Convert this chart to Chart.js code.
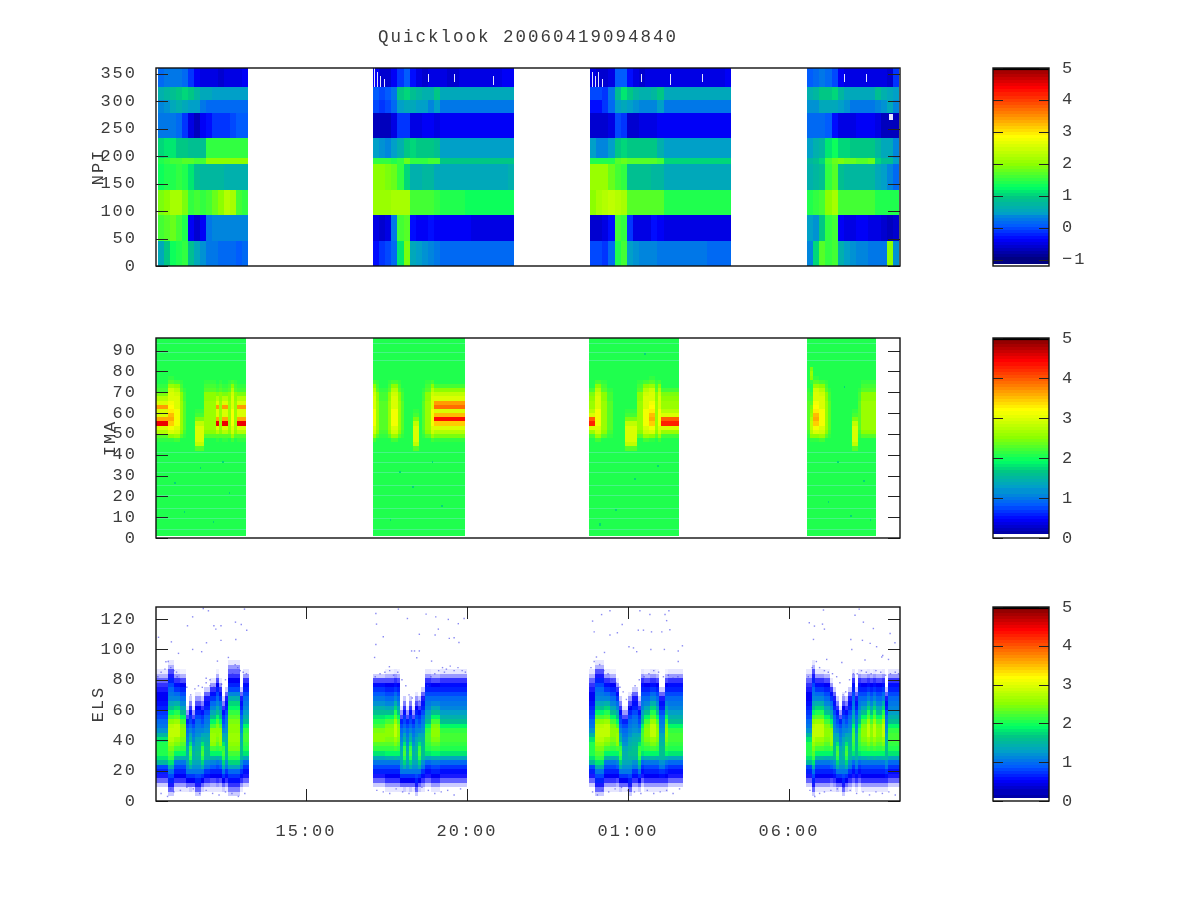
<!DOCTYPE html>
<html>
<head>
<meta charset="utf-8">
<title>Quicklook 20060419094840</title>
<script src="https://cdn.jsdelivr.net/npm/chart.js@4"></script>
<style>
html, body { margin: 0; padding: 0; background: #fff; }
#page { position: relative; width: 1200px; height: 900px; overflow: hidden; }
canvas { position: absolute; }
</style>
</head>
<body>
<div id="page">
<canvas id="npi" width="1056" height="278" style="left:0;top:0"></canvas>
<canvas id="ima" width="1056" height="224" style="left:0;top:326px"></canvas>
<canvas id="els" width="1056" height="258" style="left:0;top:595px"></canvas>
<canvas id="npiBar" width="140" height="222" style="left:960px;top:56px"></canvas>
<canvas id="imaBar" width="140" height="224" style="left:960px;top:326px"></canvas>
<canvas id="elsBar" width="140" height="218" style="left:960px;top:595px"></canvas>
</div>
<script>
const FONT = 'Liberation Mono';
const INK = '#3c3c3c';

// time axis, hours since midnight of the first day
const timeMin = 10.342;
const timeMax = 33.447;
const timeTicks = [15, 20, 25, 30];
const timeLabels = ['15:00', '20:00', '01:00', '06:00'];

const npiTicks = [0, 50, 100, 150, 200, 250, 300, 350];
const imaTicks = [0, 10, 20, 30, 40, 50, 60, 70, 80, 90];
const elsTicks = [0, 20, 40, 60, 80, 100, 120];
const npiBarTicks = [-1, 0, 1, 2, 3, 4, 5];
const npiBarLabels = ['\u22121', '0', '1', '2', '3', '4', '5'];
const plainBarTicks = [0, 1, 2, 3, 4, 5];

// NPI: sectors in degrees, one row per band from the bottom up
const npiBlocks = [[10.40, 13.20], [17.08, 21.46], [23.82, 28.20], [30.56, 33.42]];
const npiEdges = [0, 46, 93, 139, 186, 197, 232, 279, 302, 325, 360];
const npiBlock1 = [
    [.6, 1, 1.3, 1.4, 1.5, .9, .6, .4, .2, .2, .1, .1, .1, 0, .1],
    [1.6, 1.7, 1.8, 1.6, 1.4, -.4, -.6, -.4, .2, .3, .3, .3, .3, .3, .3],
    [1.9, 2, 2.2, 2.2, 1.9, 1.5, 1.6, 1.5, 1.6, 1.8, 2, 2.3, 2.2, 1.6, 1.5],
    [1.3, 1.4, 1.4, 1.5, 1.4, 1.2, .9, .8, .8, .8, .8, .7, .7, .7, .7],
    [1.4, 1.5, 1.6, 1.6, 1.7, 1.7, 1.6, 1.6, 2, 2, 2, 2, 2, 2, 2],
    [1.1, 1.2, 1.2, 1, 1, .9, .9, .9, 1.5, 1.5, 1.5, 1.5, 1.5, 1.5, 1.5],
    [.2, .2, .2, .1, -.2, -.5, -.7, -.4, -.3, -.2, -.2, -.2, -.1, 0, 0],
    [.3, .4, .6, .7, .6, .5, .5, .2, .1, .1, .1, .1, .1, .1, .1],
    [.7, .8, .9, 1, 1.1, 1, .8, .6, .6, .5, .5, .5, .5, .5, .5],
    [.1, .2, .2, .2, .1, -.2, -.4, -.5, -.5, -.5, -.6, -.5, -.5, -.5, -.4]
];
const npiBlock2 = [
    [-.3, -.2, -.1, .1, 1.2, 1.9, .6, .5, .4, .3, .2, .1, .1, .1, .1, .1, .1, .1, .1, .1, .1, .1, .1],
    [-.5, -.6, -.5, .2, 1.6, 1.7, -.3, -.4, -.4, -.3, -.4, -.4, -.4, -.4, -.4, -.4, -.5, -.5, -.5, -.5, -.5, -.5, -.5],
    [2.1, 2.1, 2.1, 2.2, 2.2, 2.2, 1.6, 1.6, 1.6, 1.6, 1.5, 1.4, 1.4, 1.4, 1.4, 1.35, 1.35, 1.35, 1.35, 1.35, 1.35, 1.35, 1.35],
    [2, 2, 1.9, 1.8, 1.5, 1.1, .7, .7, .8, .8, .6, .6, .6, .6, .6, .6, .6, .6, .6, .6, .6, .6, .7],
    [1.5, 1.5, 1.5, 1.4, 1.5, 1.8, 1.5, 1.5, 1.5, 1.6, 1.6, 1, 1, 1, 1, 1, 1, 1, 1, 1, 1, 1, 1],
    [.5, .4, .3, .5, .7, 1, 1.1, 1, 1, 1, .9, .5, .5, .5, .5, .5, .5, .5, .5, .5, .5, .5, .5],
    [-.7, -.7, -.7, -.5, -.2, -.2, -.5, -.5, -.4, -.4, -.5, -.4, -.4, -.4, -.4, -.4, -.4, -.4, -.4, -.4, -.4, -.4, -.4],
    [-.1, -.2, -.1, .1, .5, .6, .6, .5, .5, .3, .5, .2, .2, .2, .2, .2, .2, .2, .2, .2, .2, .2, .2],
    [0, -.1, 0, .2, 1, 1.1, .9, .8, .7, .7, 1, .6, .6, .6, .6, .6, .6, .6, .6, .6, .6, .6, .6],
    [-.4, -.6, -.6, -.4, -.2, 0, -.3, -.5, -.6, -.5, -.5, -.5, -.6, -.6, -.5, -.5, -.5, -.5, -.5, -.5, -.5, -.4, -.4]
];
const npiBlock3 = [
    [-.1, -.1, -.2, .1, 1.4, 1.6, .5, .4, .3, .3, .3, .2, .2, .2, .2, .2, .2, .2, .2, .1, .1, .1, .1],
    [-.6, -.6, -.5, -.3, 1.6, 1.5, -.2, -.5, -.5, -.5, -.3, -.4, -.5, -.5, -.5, -.5, -.5, -.5, -.5, -.5, -.5, -.5, -.5],
    [2, 2.2, 2.3, 2.4, 2.3, 2.2, 1.7, 1.7, 1.7, 1.7, 1.7, 1.7, 1.4, 1.4, 1.4, 1.4, 1.4, 1.4, 1.4, 1.4, 1.4, 1.4, 1.4],
    [2.1, 2.1, 2.1, 1.8, 1.6, 1.5, .9, .9, .9, .9, .8, .8, .6, .6, .6, .6, .6, .6, .6, .6, .6, .6, .6],
    [1.4, 1.4, 1.4, 1.4, 1.7, 1.8, 1.7, 1.7, 1.7, 1.7, 1.7, 1.6, 1.1, 1.1, 1.1, 1.1, 1.1, 1.1, 1.1, 1.1, 1.1, 1.1, 1.1],
    [.5, .3, .3, .5, 1, 1.1, 1, 1, 1, 1, 1, .7, .5, .5, .5, .5, .5, .5, .5, .5, .5, .5, .5],
    [-.6, -.6, -.6, -.5, -.1, -.2, -.6, -.6, -.5, -.5, -.5, -.4, -.4, -.4, -.4, -.4, -.4, -.4, -.4, -.4, -.4, -.4, -.4],
    [-.3, -.3, -.2, .1, .5, .6, .5, .4, .3, .3, .3, .5, .2, .2, .2, .2, .2, .2, .2, .2, .2, .2, .2],
    [-.1, -.1, -.2, .2, .9, 1.2, 1, .8, .7, .7, .8, 1, .6, .6, .6, .6, .6, .6, .6, .6, .6, .6, .6],
    [-.5, -.6, -.6, -.5, 0, 0, -.3, -.5, -.6, -.5, -.5, -.5, -.5, -.5, -.5, -.5, -.5, -.5, -.5, -.5, -.5, -.5, -.4]
];
const npiBlock4 = [
    [.3, 1.1, 1.7, 1.5, 1.6, .7, .5, .4, .3, .3, .2, .2, .2, 2, .4],
    [.5, .4, 1, 1.5, 1.6, -.4, -.5, -.5, -.4, -.4, -.5, -.5, -.6, -.7, -.6],
    [1.4, 1.5, 1.6, 2, 2.2, 1.6, 1.6, 1.6, 1.6, 1.6, 1.6, 1.4, 1.4, 1.4, 1.4],
    [.7, .8, .9, 1.5, 1.7, .9, .8, .8, .8, .8, .8, .6, .5, .3, .1],
    [.8, .9, 1.1, 1.6, 1.8, 1.9, 1.8, 1.8, 1.7, 1.7, 1.8, 1.1, .9, .9, .5],
    [.5, .7, .8, 1.2, 1.3, 1.1, 1.1, 1, 1, 1, 1, .8, .6, .6, .3],
    [.1, .1, .1, 0, -.3, -.5, -.5, -.5, -.4, -.4, -.4, -.5, -.7, -.7, -.7],
    [.4, .4, .6, .6, .6, .5, .4, .2, .2, .2, .2, .3, .4, .6, .3],
    [.7, .8, 1, 1, 1.1, .8, .6, .6, .6, .6, .6, .9, .7, .6, .5],
    [0, .1, .2, .1, -.1, -.4, -.5, -.5, -.5, -.5, -.5, -.5, -.5, -.6, -.2]
];
// empty samples in the NPI top band: start hour, end hour, low and high sector
const npiBlanks = [
    [17.11, 17.15, 325, 360], [17.20, 17.24, 325, 352], [17.30, 17.34, 325, 345], [17.42, 17.46, 325, 340],
    [23.88, 23.92, 325, 352], [23.97, 24.01, 325, 345], [24.06, 24.10, 325, 352], [24.20, 24.23, 325, 340],
    [18.8, 18.83, 335, 350], [19.6, 19.63, 335, 350], [20.8, 20.83, 330, 345], [25.4, 25.43, 335, 350],
    [26.3, 26.33, 330, 350], [27.3, 27.33, 335, 350], [31.7, 31.73, 335, 350], [32.4, 32.43, 335, 350],
    [33.12, 33.22, 265, 277]
];

// IMA: background level plus the hot rows between 42 and 82
const imaBlocks = [[10.342, 13.14], [17.08, 19.94], [23.80, 26.58], [30.55, 32.69]];
const imaFloor = 0.8;
const imaCeil = 96;
const imaBase = 2;
const imaPaleRows = [4, 9, 14, 20, 25, 31, 36, 41, 85, 89, 93];
const imaSpeckHours = [11.2, 12.1, 12.6, 11.7, 10.9, 12.4, 17.6, 18.3, 19.2, 18.9, 17.9, 24.6, 25.2, 24.1, 25.9, 25.5, 31.2, 31.9, 32.3, 31.5, 32.5, 31.7];
const imaSpeckChannels = [12, 7, 21, 33, 26, 36, 8, 24, 15, 36, 31, 13, 28, 6, 34, 88, 17, 10, 27, 36, 8, 72];
const imaRowStart = 42;
const imaRowStep = 2;
const imaN = [2, 2, 2, 2, 2, 2, 2, 2, 2, 2, 2, 2, 2, 2, 2, 2, 2, 2, 2, 2];
const imaI = [2, 2, 2, 2.1, 2.2, 2.3, 2.3, 2.3, 2.3, 2.3, 2.3, 2.3, 2.2, 2.2, 2.1, 2, 2, 2, 2, 2];
const imaA = [2, 2, 2, 2.3, 2.5, 2.6, 2.6, 2.6, 2.6, 2.6, 2.6, 2.6, 2.5, 2.5, 2.3, 2.2, 2.1, 2, 2, 2];
const imaB = [2, 2, 2.2, 2.6, 2.9, 3, 3.1, 3.1, 3.1, 3.1, 3, 3, 3, 2.9, 2.7, 2.5, 2.2, 2, 2, 2];
const imaC = [2, 2, 2.1, 2.3, 2.7, 3, 4.5, 3.6, 3, 3, 3.7, 3, 2.7, 2.4, 2.2, 2.1, 2, 2, 2, 2];
const imaD = [2, 2, 2.1, 2.4, 2.7, 3, 3.4, 4.4, 3.5, 3, 3.9, 3.7, 3, 2.8, 2.5, 2.2, 2, 2, 2, 2];
const imaE = [2.3, 2.8, 3, 3, 3, 3, 2.8, 2.4, 2.2, 2.1, 2, 2, 2, 2, 2, 2, 2, 2, 2, 2];
const imaF = [2, 2, 2.1, 2.5, 2.7, 2.8, 2.8, 2.7, 2.6, 2.5, 2.4, 2.3, 2.2, 2.1, 2, 2, 2.1, 2.5, 2.6, 2.4];
const imaG = [2, 2, 2, 2.2, 2.6, 3, 4.3, 4, 3, 2.7, 2.6, 2.6, 2.5, 2.4, 2.2, 2, 2, 2, 2, 2];
const imaH = [2, 2, 2.1, 2.5, 3, 3.1, 3.4, 3.6, 3.5, 3.3, 3.2, 3.1, 3, 3, 2.9, 2.6, 2.3, 2.1, 2, 2];
const imaProfiles = { n: imaN, i: imaI, a: imaA, b: imaB, c: imaC, d: imaD, e: imaE, f: imaF, g: imaG, h: imaH };
const imaColumns = [
    'cccchhbbainnneeeaaaacaccabaccc',
    'baiiiabbainnneeniaabdddddddddd',
    'ggbbaaiinnnneeeeaabbhhabgggggg',
    'ifhhbbainnnnnnneeiaaaaa'
];

// ELS: energy profiles, rows 3 to 93 in steps of 3
const elsBlocks = [[10.342, 13.23], [17.08, 20.00], [23.79, 26.71], [30.53, 33.447]];
const elsRowStart = 3;
const elsRowStep = 3;
const elsA = [0, 0, .1, .3, .45, .55, .7, .9, 1.3, 1.8, 2, 2.1, 2.15, 2.2, 2.1, 1.9, 1.6, 1.4, 1.25, 1.1, 1, .9, .75, .65, .55, .4, .2, .05, 0, 0, 0];
const elsB = [0, .05, .2, .4, .5, .65, .8, 1, 1.5, 1.9, 2.2, 2.4, 2.6, 2.8, 2.85, 2.8, 2.6, 2.3, 2, 1.7, 1.4, 1.1, .9, .7, .55, .4, .2, .05, 0, 0, 0];
const elsC = [.1, .3, .45, .6, .8, 1, 1.2, 1.35, 1.5, 1.55, 1.5, 1.4, 1.3, 1.2, 1.1, 1, .9, .8, .65, .5, .35, .2, .05, 0, 0, 0, 0, 0, 0, 0, 0];
const elsD = [0, .1, .3, .5, .7, 1, 1.4, 1.7, 2, 2.2, 2.1, 1.8, 1.5, 1.3, 1.1, .9, .8, .7, .55, .4, .25, .1, 0, 0, 0, 0, 0, 0, 0, 0, 0];
const elsE = [0, .05, .3, .5, .7, 1, 1.2, 1.3, 1.4, 1.4, 1.3, 1.2, 1.1, 1, .9, .8, .6, .35, .2, .05, 0, 0, 0, 0, 0, 0, 0, 0, 0, 0, 0];
const elsF = [.1, .3, .45, .6, .8, 1, 1.4, 1.8, 2.1, 2.3, 2.4, 2.6, 2.7, 2.8, 2.8, 2.7, 2.5, 2.2, 1.9, 1.6, 1.3, 1.1, 1, .9, .75, .6, .45, .35, .15, .05, 0];
const elsG = [0, 0, .1, .3, .45, .6, .8, 1.5, 1.8, 2, 2.05, 2, 1.8, 1.5, 1.2, 1, .9, .8, .7, .6, .55, .5, .5, .45, .4, .3, .15, .05, 0, 0, 0];
const elsH = [0, .05, .2, .4, .5, .6, .8, 1, 1.4, 1.9, 2.1, 2.3, 2.45, 2.5, 2.5, 2.4, 2.2, 1.9, 1.6, 1.3, 1.1, .9, .75, .6, .5, .35, .15, .03, 0, 0, 0];
const elsI = [.1, .25, .4, .55, .7, .9, 1.3, 1.7, 2, 2.2, 2.4, 2.5, 2.6, 2.6, 2.5, 2.5, 2.4, 2.3, 2.1, 1.9, 1.7, 1.4, 1.1, .8, .6, .5, .4, .3, .2, .05, 0];
const elsJ = [0, .05, .15, .35, .5, .65, .85, 1.1, 1.5, 1.9, 2.2, 2.5, 2.6, 2.6, 2.5, 2.2, 1.9, 1.6, 1.35, 1.1, .9, .7, .55, .4, .2, .05, 0, 0, 0, 0, 0];
const elsL = [0, .05, .2, .4, .55, .7, 1, 1.2, 1.5, 1.6, 1.6, 1.5, 1.4, 1.3, 1.2, 1.1, 1, .9, .75, .65, .55, .45, .3, .1, 0, 0, 0, 0, 0, 0, 0];
const elsM = [0, 0, .1, .3, .45, .6, .8, 1, 1.3, 1.8, 2.1, 2.3, 2.5, 2.5, 2.4, 2.2, 2, 1.8, 1.6, 1.4, 1.2, 1, .85, .7, .55, .35, .1, 0, 0, 0, 0];
const elsProfiles = { A: elsA, B: elsB, C: elsC, D: elsD, E: elsE, F: elsF, G: elsG, H: elsH, I: elsI, J: elsJ, L: elsL, M: elsM };
const elsColumns = [
    'GGGGFFBBHHEDECCDLLJJHJDLIIIILAA',
    'MMMMHHHBHEDEDECDLAAHHHAAAAAAAAA',
    'GGFFFBBHHJDEECLLDAHHBBHLLHAAAAA',
    'GGFBBBHHJLDECDLALAHHBHBHHBLAAAA'
];
// stray counts above the main belt: hour, channel
const elsStrayHours = [
    11.48, 11.32, 11.97, 12.14, 12.2, 12.36, 12.36, 12.81, 12.99, 13.16, 13.09, 11.81, 10.82, 11.04, 10.42, 11.48, 11.76, 11.91, 12.25, 12.59, 10.65, 12.82,
    17.17, 17.19, 17.87, 18.15, 18.73, 19.03, 19.42, 19.91, 19.73, 19.11, 18.52, 19.01, 19.45, 19.6, 19.75, 17.4, 17.17, 18.28, 18.37, 18.52, 18.44, 17.13, 17.59, 18.9,
    24.18, 23.9, 24.44, 25.37, 25.68, 26.15, 26.27, 26.2, 24.82, 24.67, 23.95, 24.44, 25.32, 25.48, 25.73, 26.05, 26.3, 25.03, 25.17, 25.27, 26.13, 26.56, 26.69, 24.27, 25.71, 26.56,
    30.63, 30.79, 31.04, 31.1, 30.76, 31.07, 32.18, 32.05, 32.31, 32.62, 33.14, 31.92, 32.28, 32.52, 32.72, 31.95, 32.91, 33.29, 31.64, 32.36, 33.09, 31.17, 32.88
];
const elsStrayChannels = [
    121.5, 115.6, 125.5, 115.6, 113.4, 115.6, 106, 118, 116.5, 112.7, 126.6, 127, 105, 97.4, 108, 100, 98.5, 104.4, 92.3, 94.7, 91.9, 106.6,
    123.7, 116.7, 126.6, 120.4, 123.3, 121.5, 119.8, 120.4, 117, 113.4, 110, 109.5, 107.3, 107.7, 104.6, 108.4, 103.3, 99, 99, 99, 94.5, 94.7, 88.6, 92.3,
    123, 118.7, 125.5, 125.5, 123, 123, 125.5, 119, 116.5, 111, 111.6, 109.5, 112.7, 112.7, 111.6, 111.6, 113, 101.8, 101, 98.5, 100, 99, 102.4, 98, 100, 92,
    117.6, 115.4, 116.7, 113.4, 106.6, 126, 126.6, 122.6, 118, 113.8, 110.5, 106.6, 106, 104, 101.8, 100, 96, 104.4, 91.4, 93, 93.4, 93.4, 95
];
// counts along the edges of the belt: hour, channel
const elsEdgeDots = [
    [10.4, 82], [10.5, 85], [10.62, 87], [10.72, 92], [10.8, 88], [10.9, 86], [11, 82], [11.1, 80], [11.22, 78], [11.3, 75], [11.42, 70], [11.55, 74], [11.66, 76], [11.78, 75], [11.9, 78],
    [12.02, 76], [12.14, 75], [12.26, 79], [12.38, 77], [12.5, 80], [12.6, 82], [12.72, 84], [12.8, 90], [12.88, 88], [12.96, 86], [13.05, 85], [13.15, 84], [12.02, 80], [11.9, 81], [10.98, 85],
    [10.5, 5], [10.7, 3], [10.9, 6], [11.1, 7], [11.3, 9], [11.5, 8], [11.7, 5], [11.9, 7], [12.1, 5], [12.3, 4], [12.5, 6], [12.7, 5], [12.9, 3], [13.1, 5], [10.8, 8],
    [17.15, 82], [17.3, 84], [17.45, 85], [17.6, 86], [17.72, 83], [17.85, 85], [17.98, 80], [18.1, 76], [18.2, 70], [18.3, 68], [18.4, 64], [18.52, 66], [18.64, 68], [18.78, 76], [18.88, 82],
    [19, 84], [19.12, 86], [19.24, 88], [19.36, 87], [19.48, 89], [19.6, 86], [19.72, 88], [19.85, 86], [19.95, 85], [19.3, 85],
    [17.2, 7], [17.4, 6], [17.6, 5], [17.8, 8], [18, 6], [18.2, 5], [18.4, 8], [18.6, 9], [18.8, 7], [19, 5], [19.2, 6], [19.4, 7], [19.6, 4], [19.8, 8],
    [23.85, 88], [23.95, 92], [24.02, 95], [24.12, 90], [24.25, 86], [24.38, 84], [24.5, 80], [24.62, 78], [24.75, 75], [24.85, 72], [24.95, 67], [25.05, 62], [25.12, 70], [25.22, 76],
    [25.35, 80], [25.5, 82], [25.65, 84], [25.8, 86], [25.95, 85], [26.1, 82], [26.25, 83], [26.4, 81], [26.55, 82], [26.68, 80],
    [23.9, 6], [24.05, 4], [24.2, 7], [24.4, 6], [24.6, 8], [24.8, 9], [25, 7], [25.2, 6], [25.4, 5], [25.6, 7], [25.8, 5], [26, 6], [26.2, 7], [26.4, 5], [26.6, 8],
    [30.6, 82], [30.72, 88], [30.85, 92], [30.95, 88], [31.1, 86], [31.22, 85], [31.35, 84], [31.48, 82], [31.58, 78], [31.68, 70], [31.76, 72], [31.88, 80], [32, 84], [32.12, 84],
    [32.25, 86], [32.4, 85], [32.55, 84], [32.7, 86], [32.85, 85], [33, 83], [33.15, 84], [33.3, 85], [33.4, 84],
    [30.65, 7], [30.8, 3], [30.95, 5], [31.1, 6], [31.3, 7], [31.5, 8], [31.7, 9], [31.9, 7], [32.1, 5], [32.3, 6], [32.5, 4], [32.7, 6], [32.9, 5], [33.1, 6], [33.3, 4]
];

// palette stops: position, r, g, b
const paletteStops = [
    [0, 0, 0, 130], [.1, 0, 0, 255], [.17, 0, 90, 255], [.25, 0, 160, 200], [.33, 0, 200, 130], [.38, 0, 255, 100],
    [.5, 140, 255, 0], [.64, 255, 255, 0], [.72, 255, 170, 0], [.83, 255, 60, 0], [.89, 255, 0, 0], [1, 130, 0, 0]
];
const paletteLevels = 64;

function paletteColor(f) {
    f = Math.max(0, Math.min(1, Math.round(f * paletteLevels) / paletteLevels));
    for (let i = 1; i < paletteStops.length; i++) {
        const a = paletteStops[i - 1], b = paletteStops[i];
        if (f <= b[0]) {
            const t = (f - a[0]) / (b[0] - a[0]);
            return 'rgb(' + [1, 2, 3].map(k => Math.round(a[k] + (b[k] - a[k]) * t)).join(',') + ')';
        }
    }
    return 'rgb(130,0,0)';
}

// low ELS counts are speckled in the original, so they fade towards white
function elsColor(v) {
    if (v < 0.5) {
        const w = Math.round(255 * (1 - v / 0.5));
        return 'rgb(' + w + ',' + w + ',255)';
    }
    return paletteColor(v / 5);
}
function npiColor(v) { return paletteColor((v + 1) / 6); }
function plainColor(v) { return paletteColor(v / 5); }

function npiCells() {
    const cells = [];
    [npiBlock1, npiBlock2, npiBlock3, npiBlock4].forEach(function (rows, b) {
        const t0 = npiBlocks[b][0], dt = (npiBlocks[b][1] - t0) / rows[0].length;
        rows.forEach(function (row, r) {
            row.forEach(function (v, c) {
                cells.push({ x: t0 + c * dt, x2: t0 + (c + 1) * dt, y: npiEdges[r], y2: npiEdges[r + 1], c: npiColor(v) });
            });
        });
    });
    npiBlanks.forEach(function (g) {
        cells.push({ x: g[0], x2: g[1], y: g[2], y2: g[3], c: '#e4e4ff' });
    });
    return cells;
}

function imaCells() {
    const cells = [];
    imaBlocks.forEach(function (block, b) {
        cells.push({ x: block[0], x2: block[1], y: imaFloor, y2: imaCeil, c: plainColor(imaBase) });
        imaPaleRows.forEach(function (y) {
            cells.push({ x: block[0], x2: block[1], y: y, y2: y + .5, c: 'rgb(70,245,135)' });
        });
        const cols = imaColumns[b], dt = (block[1] - block[0]) / cols.length;
        for (let c = 0; c < cols.length; c++) {
            imaProfiles[cols[c]].forEach(function (v, r) {
                if (v == imaBase) return;
                const y = imaRowStart + r * imaRowStep;
                cells.push({ x: block[0] + c * dt, x2: block[0] + (c + 1) * dt, y: y, y2: y + imaRowStep, c: plainColor(v) });
            });
        }
    });
    imaSpeckHours.forEach(function (h, i) {
        cells.push({ x: h, x2: h + .05, y: imaSpeckChannels[i], y2: imaSpeckChannels[i] + 1, c: plainColor(1.7) });
    });
    return cells;
}

function elsCells() {
    const cells = [];
    elsBlocks.forEach(function (block, b) {
        const cols = elsColumns[b], dt = (block[1] - block[0]) / cols.length;
        for (let c = 0; c < cols.length; c++) {
            elsProfiles[cols[c]].forEach(function (v, r) {
                if (v <= 0) return;
                const y = elsRowStart + r * elsRowStep;
                cells.push({ x: block[0] + c * dt, x2: block[0] + (c + 1) * dt, y: y, y2: y + elsRowStep, c: elsColor(v) });
            });
        }
    });
    return cells;
}

function barCells(lo, colorOf, hi) {
    const cells = [];
    const dv = (hi - lo) / paletteLevels;
    for (let i = 0; i < paletteLevels; i++) {
        const v = lo + i * dv, top = lo + (i + 1) * dv;
        cells.push({ x: 0, x2: 1, y: v, y2: top, c: colorOf(v + dv / 2) });
    }
    cells.push({ x: 0, x2: 1, y: hi - 0.06, y2: hi, c: '#000' });
    return cells;
}

// paints the cells through the chart scales, then the frame and inward ticks
const heatPlugin = {
    id: 'heat',
    beforeUpdate(chart) { chart.ctx.letterSpacing = '2px'; },
    beforeDraw(chart) { chart.ctx.letterSpacing = '2px'; },
    beforeDatasetsDraw(chart) {
        const ctx = chart.ctx, sx = chart.scales.x, sy = chart.scales.y;
        ctx.save();
        chart.data.datasets[0].data.forEach(function (cell) {
            const x0 = Math.round(sx.getPixelForValue(cell.x)), x1 = Math.round(sx.getPixelForValue(cell.x2));
            const y0 = Math.round(sy.getPixelForValue(cell.y)), y1 = Math.round(sy.getPixelForValue(cell.y2));
            ctx.fillStyle = cell.c;
            ctx.fillRect(x0, y1, Math.max(x1 - x0, 1), Math.max(y0 - y1, 1));
        });
        ctx.restore();
    },
    afterDraw(chart) {
        const ctx = chart.ctx, a = chart.chartArea, len = chart.options.plugins.heat.tick;
        ctx.save();
        ctx.strokeStyle = '#222';
        ctx.lineWidth = 1;
        ctx.beginPath();
        chart.scales.y.ticks.forEach(function (t) {
            const y = Math.round(chart.scales.y.getPixelForValue(t.value)) + .5;
            ctx.moveTo(a.left, y); ctx.lineTo(a.left + len, y);
            ctx.moveTo(a.right, y); ctx.lineTo(a.right - len, y);
        });
        if (chart.scales.x.options.display) {
            chart.scales.x.ticks.forEach(function (t) {
                const x = Math.round(chart.scales.x.getPixelForValue(t.value)) + .5;
                ctx.moveTo(x, a.top); ctx.lineTo(x, a.top + len);
                ctx.moveTo(x, a.bottom); ctx.lineTo(x, a.bottom - len);
            });
        }
        ctx.stroke();
        ctx.strokeStyle = '#111';
        ctx.lineWidth = 1.4;
        ctx.strokeRect(a.left, a.top, a.right - a.left, a.bottom - a.top);
        ctx.restore();
    }
};

function noEdgePadding(s) {
    s.paddingTop = 0;
    s.paddingBottom = 0;
    s.paddingLeft = 0;
    s.paddingRight = 0;
}

function tickScale(ticks, labels) {
    return {
        afterBuildTicks: function (s) { s.ticks = ticks.map(v => ({ value: v })); },
        ticks: {
            autoSkip: false,
            maxRotation: 0,
            color: INK,
            font: { family: FONT, size: 17 },
            callback: function (v) {
                const i = ticks.indexOf(v);
                return labels ? labels[i] : String(v);
            }
        },
        grid: { display: false, drawTicks: false },
        border: { display: false }
    };
}

function panel(id, cells, ymin, ymax, yticks, ytitle, titlePad, extra) {
    extra = extra || {};
    const xScale = Object.assign(tickScale(timeTicks, timeLabels), {
        type: 'linear', min: timeMin, max: timeMax, display: !!extra.timeAxis,
        afterFit: function (s) { s.height = extra.timeAxis ? 40 : 0; noEdgePadding(s); }
    });
    xScale.ticks.padding = 20;
    const yScale = Object.assign(tickScale(yticks), {
        type: 'linear', min: ymin, max: ymax, position: 'left',
        afterFit: function (s) { s.width = 156; noEdgePadding(s); },
        title: { display: true, text: ytitle, color: INK, font: { family: FONT, size: 17 }, padding: { top: titlePad, bottom: 0 } }
    });
    yScale.ticks.padding = 19;
    const datasets = [{ data: cells, pointRadius: 0, showLine: false }];
    if (extra.strays) datasets.push({
        data: extra.strays, showLine: false, pointStyle: 'rect', pointRadius: 1, pointBorderWidth: 0,
        pointBackgroundColor: 'rgba(60,60,235,.6)'
    });
    return new Chart(document.getElementById(id), {
        type: 'scatter',
        data: { datasets: datasets },
        plugins: [heatPlugin],
        options: {
            responsive: false,
            animation: false,
            devicePixelRatio: 1,
            layout: { padding: { left: 0, right: 156, top: extra.title ? 0 : 12, bottom: 12 } },
            scales: { x: xScale, y: yScale },
            plugins: {
                legend: { display: false },
                tooltip: { enabled: false },
                heat: { tick: 12 },
                title: extra.title ? {
                    display: true, text: extra.title, color: INK, fullSize: false,
                    font: { family: FONT, size: 17.5, weight: 'normal', lineHeight: 1.2 },
                    padding: { top: 27, bottom: 20 }
                } : { display: false }
            }
        }
    });
}

function colourBar(id, cells, ymin, ticks, labels) {
    const yScale = Object.assign(tickScale(ticks, labels), {
        type: 'linear', min: ymin, max: 5, position: 'right',
        afterFit: function (s) { s.width = 51; noEdgePadding(s); }
    });
    yScale.ticks.padding = 13;
    return new Chart(document.getElementById(id), {
        type: 'scatter',
        data: { datasets: [{ data: cells, pointRadius: 0, showLine: false }] },
        plugins: [heatPlugin],
        options: {
            responsive: false,
            animation: false,
            devicePixelRatio: 1,
            layout: { padding: { left: 33, right: 0, top: 12, bottom: 12 } },
            scales: {
                x: { type: 'linear', min: 0, max: 1, display: false },
                y: yScale
            },
            plugins: { legend: { display: false }, tooltip: { enabled: false }, title: { display: false }, heat: { tick: 10 } }
        }
    });
}

panel('npi', npiCells(), 0, 360, npiTicks, 'NPI', 88, { title: 'Quicklook 20060419094840' });
panel('ima', imaCells(), 0, 96, imaTicks, 'IMA', 100);
panel('els', elsCells(), 0, 128, elsTicks, 'ELS', 88, {
    timeAxis: true,
    strays: elsStrayHours.map((h, i) => ({ x: h, y: elsStrayChannels[i] }))
        .concat(elsEdgeDots.map(d => ({ x: d[0], y: d[1] })))
});
colourBar('npiBar', barCells(-1.125, npiColor, 5), -1.2, npiBarTicks, npiBarLabels);
colourBar('imaBar', barCells(0.1, plainColor, 5), 0, plainBarTicks);
colourBar('elsBar', barCells(0.08, plainColor, 5), 0, plainBarTicks);
</script>
</body>
</html>
